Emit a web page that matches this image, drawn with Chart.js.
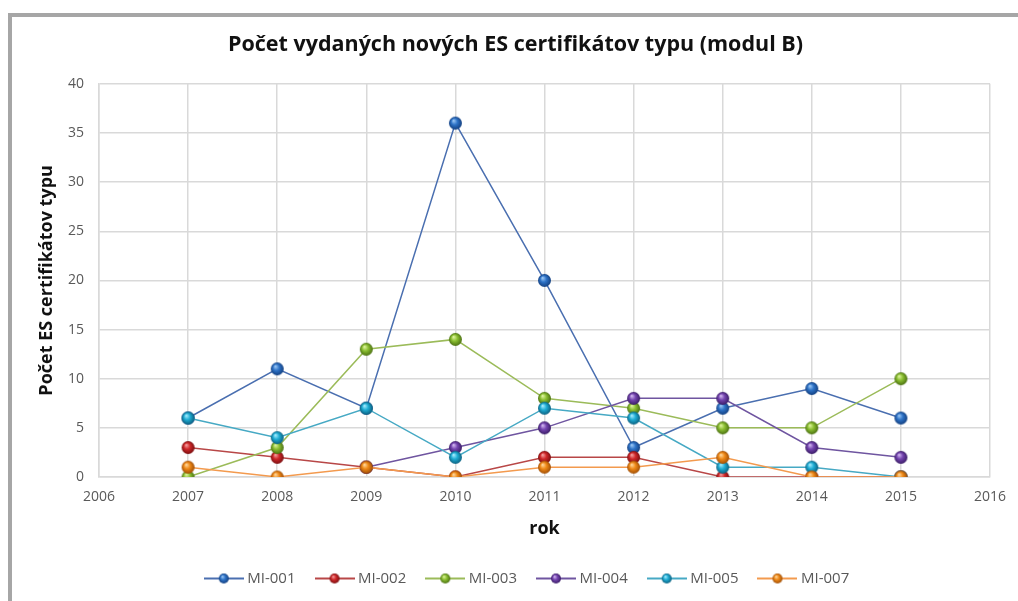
<!DOCTYPE html>
<html>
<head>
<meta charset="utf-8">
<script src="https://cdn.jsdelivr.net/npm/chart.js@4/dist/chart.umd.min.js"></script>
<style>
  html, body { margin: 0; padding: 0; background: #fff; }
  #wrap { position: relative; width: 1018px; height: 601px; overflow: hidden; }
  #frame { position: absolute; left: 8px; top: 13px; width: 1100px; height: 700px;
           border-left: 4px solid #a6a6a6; border-top: 4px solid #a6a6a6; box-sizing: border-box; }
  canvas { position: absolute; left: 0; top: 0; }
</style>
</head>
<body>
<div id="wrap">
  <div id="frame"></div>
  <canvas id="c" width="1018" height="601"></canvas>
</div>
<script>
const years = [2007, 2008, 2009, 2010, 2011, 2012, 2013, 2014, 2015];
const seriesNames = ['MI-001', 'MI-002', 'MI-003', 'MI-004', 'MI-005', 'MI-007'];
const mi001 = [6, 11, 7, 36, 20, 3, 7, 9, 6];
const mi002 = [3, 2, 1, 0, 2, 2, 0, 0, 0];
const mi003 = [0, 3, 13, 14, 8, 7, 5, 5, 10];
const mi004 = [null, null, 1, 3, 5, 8, 8, 3, 2];
const mi005 = [6, 4, 7, 2, 7, 6, 1, 1, 0];
const mi007 = [1, 0, 1, 0, 1, 1, 2, 0, 0];
const yTicks = [0, 5, 10, 15, 20, 25, 30, 35, 40];
const xTicks = [2006, 2007, 2008, 2009, 2010, 2011, 2012, 2013, 2014, 2015, 2016];

const seriesValues = [mi001, mi002, mi003, mi004, mi005, mi007];
const lineColors = ['#4a6fb0', '#b84747', '#9bbb59', '#6f55a0', '#46a9c4', '#f39a4e'];
const ballColors = [
  ['#9cc8f5', '#2f74c8', '#123f80'],
  ['#f5a0a0', '#d0282a', '#7a0e10'],
  ['#e0f5a0', '#8cc033', '#4a7010'],
  ['#d2b8f0', '#7545b0', '#3a1c66'],
  ['#a8ecff', '#20aed5', '#0a6080'],
  ['#ffd9a0', '#f08a18', '#a04e05']
];

function sphere(cols, r) {
  const s = Math.ceil(r * 2 + 2);
  const c = document.createElement('canvas');
  c.width = s; c.height = s;
  const x = c.getContext('2d');
  const cx = s / 2, cy = s / 2;
  const g = x.createRadialGradient(cx - r * 0.3, cy - r * 0.4, r * 0.05, cx, cy, r);
  g.addColorStop(0, cols[0]);
  g.addColorStop(0.45, cols[1]);
  g.addColorStop(1, cols[2]);
  x.fillStyle = g;
  x.beginPath(); x.arc(cx, cy, r, 0, Math.PI * 2); x.fill();
  return c;
}
function legendImg(lineCol, cols) {
  const w = 40, h = 12;
  const c = document.createElement('canvas');
  c.width = w; c.height = h;
  const x = c.getContext('2d');
  x.strokeStyle = lineCol; x.lineWidth = 2;
  x.beginPath(); x.moveTo(0, h / 2); x.lineTo(w, h / 2); x.stroke();
  const b = sphere(cols, 5);
  x.drawImage(b, w / 2 - b.width / 2, h / 2 - b.height / 2);
  return c;
}

const datasets = seriesNames.map((name, i) => ({
  label: name,
  data: years.map((yr, k) => ({ x: yr, y: seriesValues[i][k] })),
  borderColor: lineColors[i],
  backgroundColor: ballColors[i][1],
  borderWidth: 1.5,
  pointStyle: sphere(ballColors[i], 6.5),
  pointRadius: 6,
  order: seriesNames.length - i,
  spanGaps: false,
  tension: 0
}));
const legendImages = seriesNames.map((n, i) => legendImg(lineColors[i], ballColors[i]));

const FONT = '"Open Sans", Lato, sans-serif';

const legendShift = {
  id: 'legendShift',
  afterLayout(chart) {
    const lg = chart.legend;
    if (lg) { lg.left += 13; lg.right += 13; }
  }
};

new Chart(document.getElementById('c'), {
  type: 'line',
  data: { datasets },
  plugins: [legendShift],
  options: {
    responsive: false,
    animation: false,
    layout: { padding: { left: 32, right: 19, top: 10, bottom: 5 } },
    plugins: {
      title: {
        display: true,
        text: 'Počet vydaných nových ES certifikátov typu (modul B)',
        color: '#111',
        font: { family: FONT, size: 21.5, weight: 'bold' },
        padding: { top: 22, bottom: 26 }
      },
      legend: {
        position: 'bottom',
        labels: {
          usePointStyle: true,
          pointStyleWidth: 32,
          color: '#595959',
          font: { family: FONT, size: 15 },
          padding: 23,
          sort: (a, b) => a.datasetIndex - b.datasetIndex,
          generateLabels: (chart) => {
            const items = Chart.defaults.plugins.legend.labels.generateLabels(chart);
            items.forEach(it => { it.pointStyle = legendImages[it.datasetIndex]; });
            return items;
          }
        }
      },
      tooltip: { enabled: false }
    },
    scales: {
      x: {
        type: 'linear',
        min: xTicks[0], max: xTicks[xTicks.length - 1],
        afterBuildTicks: (s) => { s.ticks = xTicks.map(v => ({ value: v })); },
        ticks: { color: '#595959', font: { family: FONT, size: 14 }, padding: 12,
                 callback: (v) => String(v) },
        grid: { color: '#d9d9d9', lineWidth: 1.5, drawTicks: false },
        border: { color: '#d9d9d9', width: 1.5 },
        title: { display: true, text: 'rok', color: '#111',
                 font: { family: FONT, size: 18, weight: 'bold' }, padding: { top: 0, bottom: 8 } },
        afterFit: (s) => { s.height = 71; }
      },
      y: {
        min: 0, max: 40,
        afterBuildTicks: (s) => { s.ticks = yTicks.map(v => ({ value: v })); },
        ticks: { color: '#595959', font: { family: FONT, size: 14 }, padding: 15 },
        grid: { color: '#d9d9d9', lineWidth: 1.5, drawTicks: false },
        border: { color: '#d9d9d9', width: 1.5 },
        title: { display: true, text: 'Počet ES certifikátov typu', color: '#111',
                 font: { family: FONT, size: 18, weight: 'bold' }, padding: { top: 4, bottom: 4 } },
        afterFit: (s) => { s.width = 67; }
      }
    }
  }
});
</script>
</body>
</html>
